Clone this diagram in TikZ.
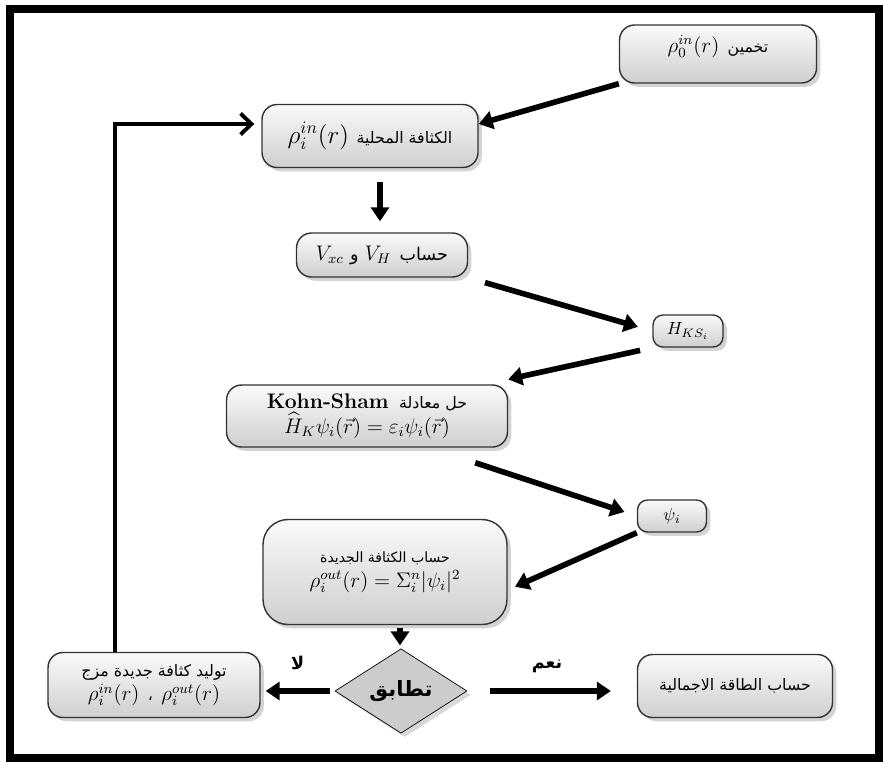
\documentclass[tikz,border=0pt]{standalone}
\usepackage{amsmath}
\usepackage{fontspec}
\newfontfamily\arabicfont[Script=Arabic]{DejaVu Sans}
\TeXXeTstate=1
\newcommand{\artext}[1]{{\arabicfont\beginR #1\endR}}
\usetikzlibrary{shapes.geometric}
\usetikzlibrary{shadows}
\usetikzlibrary{arrows.meta}

\begin{document}
\begin{tikzpicture}[x=0.02cm,y=-0.02cm,
    stepbox/.style={draw=black!80,line width=0.8pt,rounded corners=0.3cm,
      top color=gray!4,bottom color=gray!38,drop shadow={opacity=0.35},
      align=center,inner sep=2pt},
    arr/.style={line width=3.2pt,-{Triangle[length=0.28cm,width=0.36cm]}},
    ]
    \useasboundingbox (0,0) rectangle (883,762);
    % Frame
    \draw [line width=0.16cm] (10,9) rectangle (879,758);

    % Steps of the cycle
    \node [stepbox,minimum width=3.94cm,minimum height=1.16cm,text depth=0.4cm] (init) at (718,54) {\large$\rho_0^{in}(r)$\hspace{0.4em}\artext{\small تخمين}};
    \node [stepbox,minimum width=4.32cm,minimum height=1.26cm] (local) at (370,136) {\Large$\rho_i^{in}(r)$\hspace{0.3em}\artext{\small الكثافة المحلية}};
    \node [stepbox,minimum width=3.42cm,minimum height=0.88cm] (vpot) at (382,255) {\large$V_{xc}$\hspace{0.3em}\artext{\normalsize و}\hspace{0.3em}$V_H$\hspace{0.4em}\artext{\normalsize حساب}};
    \node [stepbox,minimum width=1.4cm,minimum height=0.64cm,rounded corners=0.2cm] (hks) at (688,331) {$H_{KS_i}$};
    \node [stepbox,minimum width=5.62cm,minimum height=1.24cm,font=\large] (ks) at (367,416) {\textbf{Kohn-Sham}\hspace{0.5em}\artext{\small حل معادلة}\\ $\widehat{H}_K\psi_i(\vec{r})=\varepsilon_i\psi_i(\vec{r})$};
    \node [stepbox,minimum width=1.38cm,minimum height=0.64cm,rounded corners=0.2cm] (psi) at (672,516) {$\psi_i$};
    \node [stepbox,minimum width=4.88cm,minimum height=2.1cm,rounded corners=0.5cm] (rhoout) at (385,572) {\artext{\footnotesize حساب الكثافة الجديدة}\\[2pt] \large$\rho_i^{out}(r)=\Sigma_i^{n}|\psi_i|^2$};

    % Test and its two ways out
    \node [draw,diamond,fill=gray!40,minimum width=2.64cm,minimum height=1.54cm,inner sep=0pt,drop shadow={opacity=0.3}] (check) at (401,691) {\large\textbf{\artext{تطابق}}};
    \node [stepbox,minimum width=3.9cm,minimum height=1.26cm] (total) at (735,686) {\artext{\small حساب الطاقة الاجمالية}};
    \node [stepbox,minimum width=4.24cm,minimum height=1.3cm] (mix) at (154,685) {\artext{\small توليد كثافة جديدة مزج}\\[2pt] \large$\rho_i^{in}(r)$\hspace{0.4em}\artext{\small ،}\hspace{0.4em}$\rho_i^{out}(r)$};

    % Arrows
    \draw [arr] (init.south west) -- ([yshift=0.24cm]local.east);
    \draw [arr,shorten <=0.28cm,shorten >=0.22cm] ([xshift=0.2cm]local.south) -- ([xshift=0.2cm]local.south |- vpot.north);
    \draw [arr,shorten <=0.35cm,shorten >=0.3cm] (vpot.south east) -- (hks.west);
    \draw [arr,shorten <=0.25cm] (hks.south west) -- ([yshift=0.1cm]ks.north east);
    \draw [arr,shorten >=0.26cm] ([shift={(-0.66cm,-0.3cm)}]ks.south east) -- (psi.west);
    \draw [arr,shorten >=0.16cm] (psi.south west) -- ([yshift=-0.36cm]rhoout.east);
    \draw [arr,shorten <=0.06cm,shorten >=0.06cm] ([xshift=0.3cm]rhoout.south) -- ([xshift=0.3cm]rhoout.south |- check.north);
    \draw [arr,shorten <=0.1cm,shorten >=0.1cm] (check.west) -- (check.west -| mix.east) node [midway,above=0.25cm] (no) {\textbf{\artext{لا}}};
    \draw [arr,shorten <=0.46cm,shorten >=0.52cm] (check.east) -- (check.east -| total.west) node [midway,above=0.2cm,xshift=-0.1cm] (yes) {\textbf{\artext{نعم}}};
    % back to the start of the loop
    \draw [line width=2.2pt,-{Straight Barb[length=0.22cm,width=0.42cm]},shorten >=0.14cm] ([xshift=-0.78cm]mix.north) |- ([yshift=0.24cm]local.west);
\end{tikzpicture}
\end{document}
